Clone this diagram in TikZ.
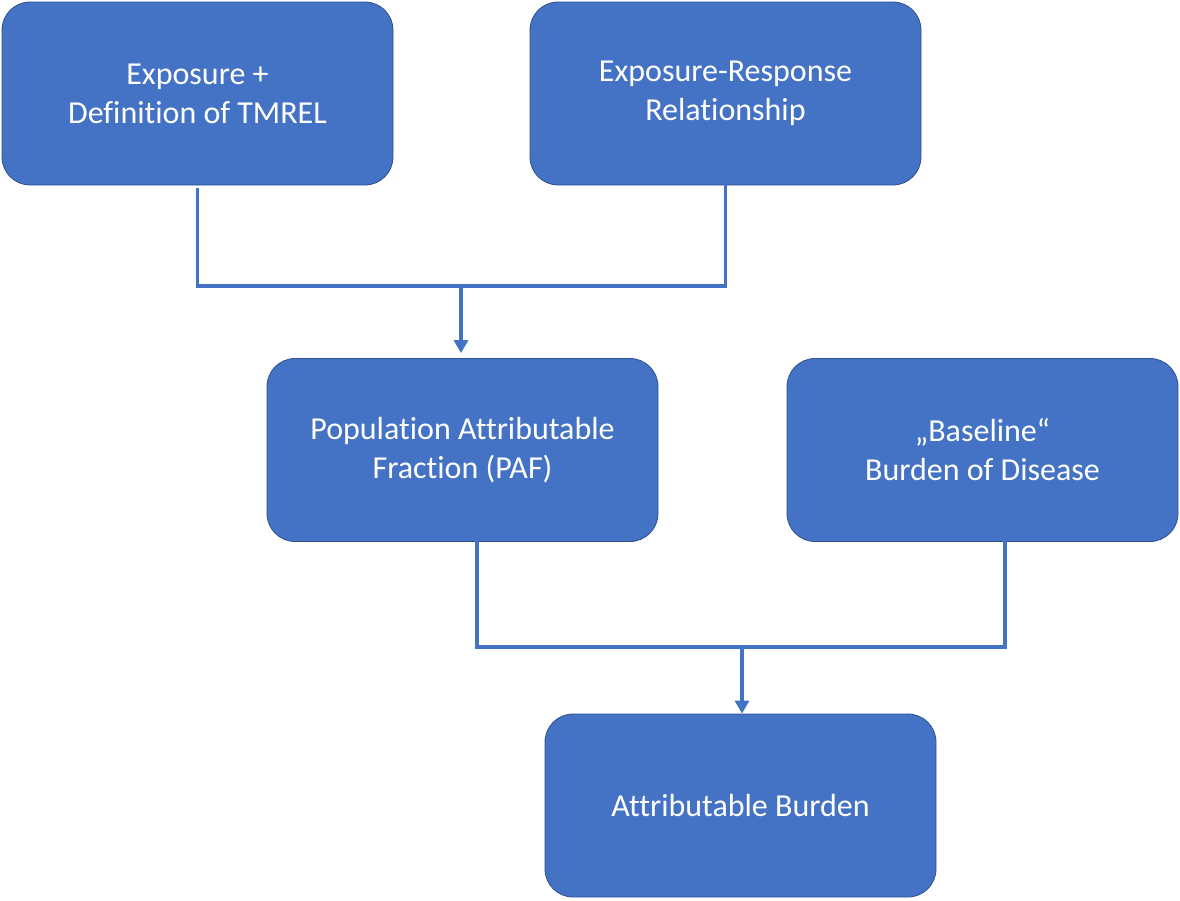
\documentclass[tikz,border=0pt]{standalone}
\usepackage{fontspec}
\setmainfont[RawFeature={-liga,-clig}]{Carlito}
\usetikzlibrary{arrows.meta}
\definecolor{boxblue}{HTML}{4472C4}
\definecolor{boxedge}{HTML}{2F528F}
\begin{document}
\begin{tikzpicture}[x=1pt,y=-1pt,
  every node/.style={font=\fontsize{32}{39}\selectfont, text=white},
  blk/.style={draw=boxedge, line width=0.8pt, fill=boxblue, rounded corners=28pt,
    minimum width=391pt, minimum height=183pt, align=center},
  conn/.style={draw=boxblue, line width=3.5pt},
  tip/.style={-{Triangle[length=13pt,width=14pt]}}]
\useasboundingbox (0,0) rectangle (1180,900);
% first row
  \node[blk] (expo) at (197.5,93.5) {Exposure +\\Definition of TMREL};
  \node[blk] (erf) at (725.5,93.5) {Exposure-Response\\Relationship};
% second row
  \node[blk] (paf) at (462.5,450) {Population Attributable\\Fraction (PAF)};
  \node[blk] (base) at (982.5,450) {\char"201E Baseline\char"201C\\Burden of Disease};
% result
  \node[blk] (burden) at (740.5,805.5) {Attributable Burden};
%%%%%%%%%%%%%%%%
\coordinate (j1) at (461,286);
\coordinate (j2) at (742,647);
\draw[conn, shorten <=3pt] (expo.south) |- (j1) -| ([yshift=3pt]erf.south);
\draw[conn, tip, shorten >=5pt] (j1) -- (j1 |- paf.north);
\draw[conn] ([xshift=14.5pt,yshift=3pt]paf.south) |- (j2) -| ([xshift=22.5pt,yshift=3pt]base.south);
\draw[conn, tip] (j2) -- (j2 |- burden.north);
\end{tikzpicture}
\end{document}
